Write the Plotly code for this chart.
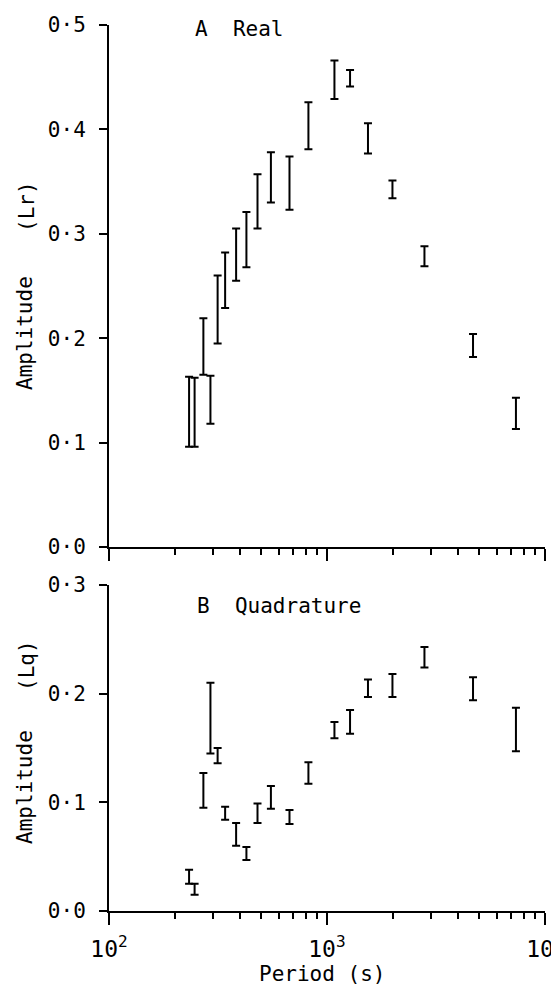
import plotly.graph_objects as go

# ---- data ----
period = [233, 247, 271, 292, 315, 341, 383, 427, 480, 553,
          673, 822, 1082, 1276, 1542, 1997, 2800, 4677, 7360]

real_low = [0.096, 0.096, 0.165, 0.118, 0.195, 0.229, 0.255, 0.268, 0.305, 0.330,
            0.323, 0.381, 0.429, 0.441, 0.377, 0.334, 0.269, 0.182, 0.113]
real_high = [0.163, 0.162, 0.219, 0.164, 0.260, 0.282, 0.305, 0.321, 0.357, 0.378,
             0.374, 0.426, 0.466, 0.457, 0.406, 0.351, 0.288, 0.204, 0.143]

quad_low = [0.025, 0.015, 0.095, 0.145, 0.136, 0.084, 0.060, 0.047, 0.081, 0.094,
            0.080, 0.117, 0.159, 0.163, 0.197, 0.197, 0.224, 0.194, 0.147]
quad_high = [0.038, 0.025, 0.127, 0.210, 0.150, 0.096, 0.081, 0.059, 0.099, 0.115,
             0.093, 0.137, 0.174, 0.185, 0.213, 0.218, 0.243, 0.215, 0.187]

real_ticks = [0.0, 0.1, 0.2, 0.3, 0.4, 0.5]
real_ticktext = ["0·0", "0·1", "0·2", "0·3", "0·4", "0·5"]
quad_ticks = [0.0, 0.1, 0.2, 0.3]
quad_ticktext = ["0·0", "0·1", "0·2", "0·3"]
x_major = [100, 1000, 10000]
x_major_text = ["10<sup>2</sup>", "10<sup>3</sup>", "10<sup>4</sup>"]
x_minor = [m * d for d in (100, 1000) for m in range(2, 10)]

FONT = "DejaVu Sans Mono"
INK = "black"


def mid_half(lo, hi):
    mid = [(a + b) / 2 for a, b in zip(lo, hi)]
    half = [(b - a) / 2 for a, b in zip(lo, hi)]
    return mid, half


fig = go.Figure()

rm, rh = mid_half(real_low, real_high)
qm, qh = mid_half(quad_low, quad_high)

fig.add_trace(go.Scatter(
    x=period, y=rm, mode="markers", xaxis="x", yaxis="y",
    marker=dict(size=1, color="rgba(0,0,0,0)"),
    error_y=dict(type="data", array=rh, symmetric=True, color=INK,
                 thickness=2, width=4),
    showlegend=False, hoverinfo="skip"))

fig.add_trace(go.Scatter(
    x=period, y=qm, mode="markers", xaxis="x2", yaxis="y2",
    marker=dict(size=1, color="rgba(0,0,0,0)"),
    error_y=dict(type="data", array=qh, symmetric=True, color=INK,
                 thickness=2, width=4),
    showlegend=False, hoverinfo="skip"))

# page body has an 8px margin: the figure starts at (8, 8) in the window
OFF = 8
W, H = 559 - OFF, 989 - OFF
AX_L, AX_R = 109, 545          # window px of 10^2 and 10^4
AX_T, AX_B = 25, 911           # window px of top of upper panel, bottom of lower
L = AX_L - OFF
R = 559 - AX_R
T = AX_T - OFF
B = 989 - AX_B
PH = AX_B - AX_T
top_dom = [(AX_B - 547) / PH, 1.0]
bot_dom = [0.0, (AX_B - 585) / PH]

xcommon = dict(
    type="log", range=[2, 4.0002], showline=True, linecolor=INK, linewidth=2,
    showgrid=False, zeroline=False, ticks="outside", ticklen=12, tickwidth=2,
    tickcolor=INK, tickmode="array", tickvals=x_major, ticktext=x_major_text,
    ticklabeloverflow="allow",
    minor=dict(tickmode="array", tickvals=x_minor, ticks="outside", ticklen=6,
               tickwidth=1.5, tickcolor=INK, showgrid=False),
)
ycommon = dict(
    showline=True, linecolor=INK, linewidth=2, showgrid=False, zeroline=False,
    ticks="outside", ticklen=8, tickwidth=2, tickcolor=INK, tickmode="array",
    tickfont=dict(family=FONT, size=21, color=INK), ticklabelstandoff=9,
)

fig.update_layout(
    width=W, height=H,
    margin=dict(l=L, r=R, t=T, b=B, autoexpand=False),
    paper_bgcolor="white", plot_bgcolor="white",
    font=dict(family=FONT, color=INK),
    xaxis=dict(**xcommon, domain=[0, 1], anchor="y", showticklabels=False),
    yaxis=dict(**ycommon, domain=top_dom, anchor="x", range=[0, 0.5],
               tickvals=real_ticks, ticktext=real_ticktext),
    xaxis2=dict(**xcommon, domain=[0, 1], anchor="y2", showticklabels=True,
                tickfont=dict(family=FONT, size=23, color=INK),
                ticklabelstandoff=4),
    yaxis2=dict(**ycommon, domain=bot_dom, anchor="x2", range=[0, 0.3],
                tickvals=quad_ticks, ticktext=quad_ticktext),
)


def px_x(px):
    return (px - AX_L) / (AX_R - AX_L)


def px_y(py):
    return (AX_B - py) / PH


NB = "\u00a0"
annots = [
    dict(text="A" + NB * 2 + "Real", x=px_x(193), y=px_y(29), xanchor="left",
         yanchor="middle", font=dict(size=21)),
    dict(text="B" + NB * 2 + "Quadrature", x=px_x(195), y=px_y(606), xanchor="left",
         yanchor="middle", font=dict(size=21)),
    dict(text="Amplitude", x=px_x(25), y=px_y(333), textangle=-90,
         xanchor="center", yanchor="middle", font=dict(size=21)),
    dict(text="(Lr)", x=px_x(27), y=px_y(207), textangle=-90,
         xanchor="center", yanchor="middle", font=dict(size=21)),
    dict(text="Amplitude", x=px_x(25), y=px_y(787), textangle=-90,
         xanchor="center", yanchor="middle", font=dict(size=21)),
    dict(text="(Lq)", x=px_x(27), y=px_y(666), textangle=-90,
         xanchor="center", yanchor="middle", font=dict(size=21)),
    dict(text="Period (s)", x=px_x(322), y=px_y(974), xanchor="center",
         yanchor="middle", font=dict(size=21)),
]
for a in annots:
    a.update(xref="paper", yref="paper", showarrow=False)
    a["font"].update(family=FONT, color=INK)
fig.update_layout(annotations=annots)

fig.write_html("out.html")
